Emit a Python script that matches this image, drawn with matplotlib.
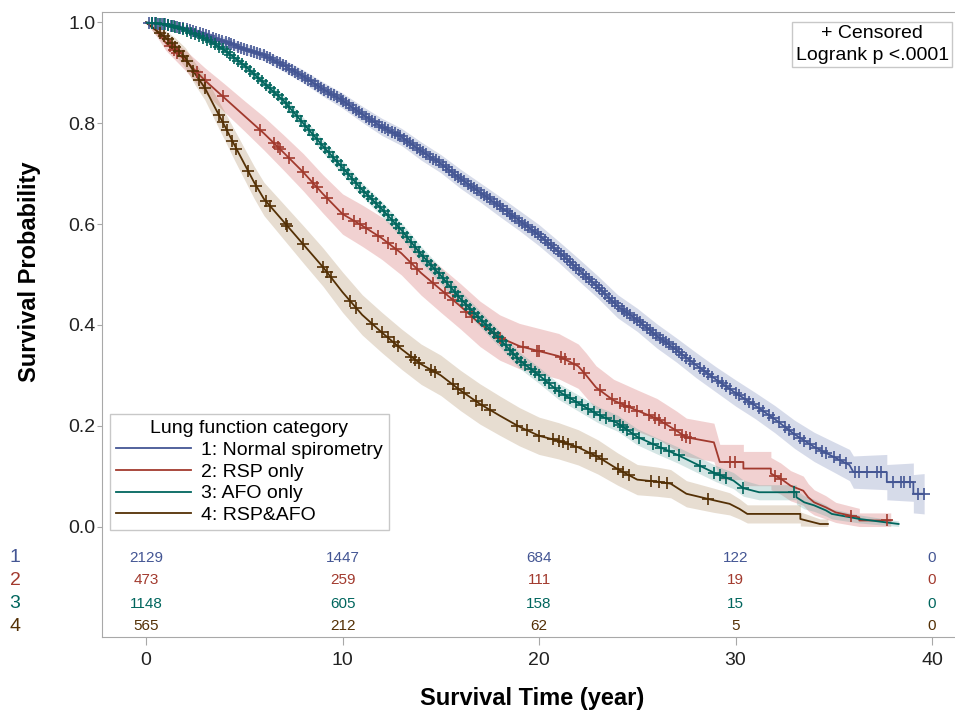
import numpy as np
import matplotlib
matplotlib.use("Agg")
import matplotlib.pyplot as plt
from matplotlib.lines import Line2D

plt.rcParams["font.family"] = ["Liberation Sans", "DejaVu Sans"]

# Kaplan-Meier estimates (time in years, survival probability)
# repeated times are the vertical drops of the step curve in the tails
t1 = [0, 1, 2, 3, 4, 5, 6, 7, 8, 9, 10, 11, 12, 13, 14, 15, 16, 17, 18, 19, 20, 21, 22, 23, 24, 25,
      26, 27, 28, 29, 30, 31, 32, 33, 34, 35, 35.8, 36.0, 37.7, 37.7, 39.05, 39.05, 39.6]
s1 = [1.0, 0.996, 0.988, 0.975, 0.962, 0.948, 0.935, 0.915, 0.893, 0.868, 0.845, 0.818, 0.793, 0.773,
      0.745, 0.72, 0.69, 0.663, 0.635, 0.607, 0.578, 0.545, 0.51, 0.475, 0.437, 0.41, 0.378, 0.35, 0.32,
      0.292, 0.265, 0.24, 0.213, 0.183, 0.158, 0.138, 0.122, 0.108, 0.108, 0.088, 0.088, 0.065, 0.065]
hw1 = [0, 0.004, 0.006, 0.008, 0.009, 0.01, 0.011, 0.012, 0.013, 0.014, 0.015, 0.016, 0.017, 0.017,
       0.018, 0.018, 0.019, 0.019, 0.02, 0.02, 0.021, 0.021, 0.022, 0.022, 0.023, 0.023, 0.024, 0.024,
       0.025, 0.025, 0.026, 0.026, 0.027, 0.028, 0.029, 0.03, 0.031, 0.032, 0.035, 0.035, 0.038, 0.038, 0.04]

t2 = [0, 0.5, 1, 2, 3, 4, 5, 6, 7, 8, 9, 10, 11, 12, 13, 14, 15, 16, 17, 18, 19, 20, 21, 22, 22.4,
      22.9, 23.8, 25, 26, 27, 27.5, 28.9, 29.2, 30.4, 30.4, 31.8, 31.8, 32.3, 32.8, 33.45, 33.7, 34.0,
      34.6, 35.1, 36.3, 36.3, 37.9]
s2 = [1.0, 0.985, 0.96, 0.925, 0.885, 0.85, 0.815, 0.78, 0.742, 0.703, 0.66, 0.62, 0.597, 0.572, 0.542,
      0.503, 0.47, 0.437, 0.402, 0.375, 0.358, 0.348, 0.338, 0.318, 0.3, 0.276, 0.25, 0.23, 0.214, 0.19,
      0.177, 0.167, 0.128, 0.128, 0.115, 0.115, 0.105, 0.095, 0.081, 0.071, 0.058, 0.048, 0.038, 0.028,
      0.018, 0.012, 0.012]
hw2 = [0, 0.01, 0.015, 0.02, 0.025, 0.028, 0.03, 0.033, 0.035, 0.037, 0.038, 0.04, 0.041, 0.042, 0.043,
       0.044, 0.045, 0.045, 0.045, 0.045, 0.045, 0.045, 0.045, 0.044, 0.044, 0.043, 0.042, 0.041, 0.04,
       0.039, 0.038, 0.038, 0.035, 0.035, 0.034, 0.034, 0.032, 0.031, 0.03, 0.029, 0.027, 0.025, 0.023,
       0.02, 0.018, 0.015, 0.015]

t3 = [0, 1, 2, 3, 4, 5, 6, 7, 8, 9, 10, 11, 12, 13, 14, 15, 16, 17, 18, 19, 20, 21, 22, 23, 24, 25,
      26, 27, 28, 29, 29.9, 30.4, 31.2, 33.1, 33.1, 33.5, 34.0, 34.6, 34.9, 36.3, 38.3]
s3 = [1.0, 0.997, 0.985, 0.968, 0.945, 0.915, 0.88, 0.845, 0.8, 0.755, 0.712, 0.668, 0.63, 0.588, 0.54,
      0.498, 0.452, 0.412, 0.372, 0.33, 0.3, 0.268, 0.245, 0.222, 0.205, 0.178, 0.16, 0.143, 0.124,
      0.105, 0.091, 0.076, 0.068, 0.068, 0.058, 0.048, 0.042, 0.032, 0.025, 0.015, 0.005]
hw3 = [0, 0.003, 0.004, 0.006, 0.007, 0.008, 0.01, 0.011, 0.012, 0.013, 0.014, 0.014, 0.015, 0.015,
       0.016, 0.016, 0.016, 0.016, 0.016, 0.016, 0.016, 0.016, 0.016, 0.016, 0.016, 0.016, 0.016, 0.016,
       0.016, 0.016, 0.016, 0.016, 0.015, 0.015, 0.014, 0.013, 0.012, 0.011, 0.01, 0.008, 0.006]

t4 = [0, 0.5, 1, 1.5, 2, 2.5, 3, 3.5, 4, 4.5, 5, 5.5, 6, 7, 8, 9, 10, 11, 12, 13, 14, 15, 16, 17, 18,
      19, 20, 21, 22, 23, 24, 25, 26, 26.7, 27.5, 28.9, 29.7, 30.2, 30.6, 33.3, 33.3, 34.3, 34.7]
s4 = [1.0, 0.985, 0.97, 0.952, 0.93, 0.898, 0.87, 0.832, 0.795, 0.757, 0.72, 0.683, 0.65, 0.605, 0.56,
      0.515, 0.465, 0.42, 0.385, 0.352, 0.322, 0.3, 0.27, 0.243, 0.22, 0.198, 0.18, 0.17, 0.157, 0.138,
      0.114, 0.093, 0.089, 0.085, 0.065, 0.052, 0.045, 0.035, 0.025, 0.025, 0.015, 0.005, 0.005]
hw4 = [0, 0.01, 0.014, 0.017, 0.02, 0.022, 0.024, 0.026, 0.028, 0.03, 0.031, 0.032, 0.033, 0.035, 0.037,
       0.038, 0.04, 0.04, 0.04, 0.04, 0.04, 0.04, 0.04, 0.04, 0.039, 0.038, 0.037, 0.036, 0.035, 0.034,
       0.032, 0.03, 0.029, 0.028, 0.026, 0.024, 0.022, 0.02, 0.018, 0.018, 0.014, 0.01, 0.01]

# censoring times (the + marks)
cens1 = [0.15, 0.3, 0.45, 0.6, 0.8, 0.95, 1.1, 1.25, 1.45, 1.6, 1.75, 1.9, 2.1, 2.25, 2.4, 2.55, 2.75,
         2.9, 3.05, 3.2, 3.4, 3.55, 3.7, 3.85, 4.05, 4.2, 4.35, 4.5, 4.7, 4.85, 5.0, 5.15, 5.35, 5.5, 5.65,
         5.8, 6.0, 6.15, 6.3, 6.45, 6.65, 6.8, 6.95, 7.1, 7.3, 7.45, 7.6, 7.75, 7.95, 8.1, 8.25, 8.4, 8.6,
         8.75, 8.9, 9.05, 9.25, 9.4, 9.55, 9.7, 9.9, 10.05, 10.2, 10.35, 10.55, 10.7, 10.85, 11.0, 11.2,
         11.35, 11.5, 11.65, 11.85, 12.0, 12.15, 12.3, 12.5, 12.65, 12.8, 12.95, 13.15, 13.3, 13.45, 13.6,
         13.8, 13.95, 14.1, 14.25, 14.45, 14.6, 14.75, 14.9, 15.1, 15.25, 15.4, 15.55, 15.75, 15.9, 16.05,
         16.2, 16.4, 16.55, 16.7, 16.85, 17.05, 17.2, 17.35, 17.5, 17.7, 17.85, 18.0, 18.15, 18.35, 18.5,
         18.65, 18.8, 19.0, 19.15, 19.3, 19.45, 19.65, 19.8, 19.95, 20.1, 20.3, 20.45, 20.6, 20.75, 20.95,
         21.1, 21.25, 21.4, 21.6, 21.75, 21.9, 22.05, 22.25, 22.4, 22.55, 22.7, 22.9, 23.05, 23.2, 23.35,
         23.55, 23.7, 23.85, 24.0, 24.2, 24.35, 24.5, 24.65, 24.85, 25.0, 25.15, 25.3, 25.5, 25.65, 25.8,
         25.95, 26.15, 26.3, 26.45, 26.6, 26.8, 26.95, 27.1, 27.3, 27.5, 27.7, 27.9, 28.2, 28.4, 28.6,
         28.8, 29.1, 29.3, 29.5, 29.7, 30.0, 30.2, 30.5, 30.7, 30.9, 31.2, 31.4, 31.7, 31.9, 32.2, 32.5,
         32.7, 33.0, 33.3, 33.5, 33.8, 34.1, 34.4, 34.6, 35.0, 35.3, 35.6, 36.1, 36.3, 36.7, 37.2, 37.4,
         38.0, 38.4, 38.6, 38.9, 39.3, 39.6]
cens2 = [1.2, 1.4, 1.6, 2.6, 3.0, 3.9, 5.8, 6.5, 6.7, 6.8, 7.3, 8.0, 8.5, 8.7, 9.2, 10.0, 10.6, 10.9,
         11.2, 11.8, 12.3, 12.7, 13.5, 13.8, 14.6, 15.2, 15.6, 16.3, 16.6, 17.7, 18.0, 19.2, 19.9, 20.0,
         21.1, 21.3, 21.8, 22.3, 23.1, 23.7, 24.1, 24.4, 24.6, 25.0, 25.6, 25.9, 26.1, 26.4, 26.9, 27.3,
         27.5, 27.7, 29.7, 29.95, 32.0, 32.3, 35.9, 37.7]
cens3 = [0.3, 0.5, 0.7, 0.9, 1.1, 1.3, 1.5, 1.7, 1.9, 2.1, 2.3, 2.5, 2.7, 2.9, 3.1, 3.3, 3.5, 3.7, 3.9,
         4.1, 4.3, 4.5, 4.7, 4.9, 5.1, 5.3, 5.5, 5.7, 5.9, 6.1, 6.3, 6.5, 6.7, 6.9, 7.1, 7.3, 7.5, 7.7,
         7.9, 8.1, 8.3, 8.5, 8.7, 8.9, 9.1, 9.3, 9.5, 9.7, 9.9, 10.1, 10.3, 10.5, 10.7, 10.9, 11.1, 11.3,
         11.5, 11.7, 11.9, 12.1, 12.3, 12.5, 12.7, 12.9, 13.1, 13.3, 13.5, 13.7, 13.9, 14.1, 14.3, 14.5,
         14.7, 14.9, 15.1, 15.3, 15.5, 15.7, 15.9, 16.1, 16.3, 16.5, 16.7, 16.9, 17.1, 17.3, 17.5, 17.7,
         17.9, 18.1, 18.3, 18.5, 18.7, 18.9, 19.1, 19.3, 19.6, 19.8, 20.0, 20.3, 20.5, 20.8, 21.0, 21.3,
         21.6, 21.9, 22.2, 22.5, 22.8, 23.1, 23.4, 23.8, 24.1, 24.3, 24.5, 24.8, 25.1, 25.8, 26.2, 26.6,
         27.1, 28.2, 28.9, 29.2, 29.5, 30.4, 33.0]
cens4 = [0.7, 0.9, 1.1, 1.3, 1.5, 1.7, 1.9, 2.1, 2.4, 2.7, 3.0, 3.7, 3.9, 4.1, 4.4, 4.6, 5.2, 5.6, 6.1,
         6.3, 7.1, 7.2, 8.0, 9.0, 9.2, 9.4, 10.4, 10.7, 11.5, 12.0, 12.3, 12.6, 12.8, 13.5, 13.7, 13.9,
         14.5, 14.7, 15.6, 15.9, 16.2, 16.8, 17.1, 17.5, 18.9, 19.4, 20.0, 20.7, 21.0, 21.2, 21.5, 21.9,
         22.6, 22.9, 23.2, 24.0, 24.3, 24.6, 25.7, 26.1, 26.5, 28.6]

labels = ["1: Normal spirometry", "2: RSP only", "3: AFO only", "4: RSP&AFO"]
line_colors = ["#445694", "#A23A2E", "#01665E", "#543005"]
band_colors = ["#6F7EB3", "#D05B5B", "#66A5A0", "#A9865B"]

# number at risk
risk_times = [0, 10, 20, 30, 40]
at_risk = [[2129, 1447, 684, 122, 0],
           [473, 259, 111, 19, 0],
           [1148, 605, 158, 15, 0],
           [565, 212, 62, 5, 0]]
risk_rows_y = [-0.0615, -0.107, -0.153, -0.198]

groups = [(t1, s1, hw1, cens1), (t2, s2, hw2, cens2), (t3, s3, hw3, cens3), (t4, s4, hw4, cens4)]

fig = plt.figure(figsize=(9.55, 7.13), dpi=100)
ax = fig.add_axes([102 / 955, 76 / 713, 853 / 955, 625 / 713])

# confidence bands first
for (t, s, hw, c), bc in zip(groups, band_colors):
    t = np.array(t); s = np.array(s); hw = np.array(hw)
    ax.fill_between(t, np.clip(s - hw, 0, None), s + hw, color=bc, alpha=0.28, lw=0, zorder=1)

handles = []
for (t, s, hw, c), lc, lab in zip(groups, line_colors, labels):
    ax.plot(t, s, color=lc, lw=1.3, zorder=3)
    c = np.array(c)
    ax.plot(c, np.interp(c, t, s), ls="none", marker="+", ms=8, mew=1.2, color=lc, zorder=4)
    handles.append(Line2D([0], [0], color=lc, lw=1.3, label=lab))

# at-risk table inside the frame below zero
for row, lc, ry in zip(at_risk, line_colors, risk_rows_y):
    for x, n in zip(risk_times, row):
        ax.text(x, ry, str(n), color=lc, fontsize=11, ha="center", va="center")
for i, (lc, ry) in enumerate(zip(line_colors, risk_rows_y)):
    ax.text(-0.102, ry, str(i + 1), color=lc, fontsize=14, ha="center", va="center",
            transform=ax.get_yaxis_transform())

ax.set_xlim(-2.239, 41.17)
ax.set_ylim(-0.2192, 1.0208)
ax.set_xticks(risk_times)
ax.set_yticks([0, 0.2, 0.4, 0.6, 0.8, 1.0])
ax.set_yticklabels(["0.0", "0.2", "0.4", "0.6", "0.8", "1.0"])

for side in ["left", "top", "bottom"]:
    ax.spines[side].set_color("#a8a8a8")
ax.spines["right"].set_visible(False)
ax.tick_params(axis="both", colors="#a8a8a8", labelcolor="#222222", labelsize=14, direction="out")
ax.tick_params(axis="x", length=6, pad=5)
ax.tick_params(axis="y", length=3.5, pad=1)

ax.set_xlabel("Survival Time (year)", fontsize=17, fontweight="bold")
ax.set_ylabel("Survival Probability", fontsize=17, fontweight="bold")
ax.xaxis.set_label_coords(0.504, -0.08)
ax.yaxis.set_label_coords(-0.072, 0.585)

leg = ax.legend(handles=handles, title="Lung function category", loc="lower left",
                bbox_to_anchor=(0.009, 0.171), borderaxespad=0, fontsize=14, title_fontsize=14,
                fancybox=False, edgecolor="#c8c8c8", framealpha=1, handlelength=3.9,
                handletextpad=0.5, labelspacing=0.22, borderpad=0.3)
leg.get_frame().set_linewidth(1.0)

ax.text(0.903, 0.948, "+ Censored\nLogrank p <.0001", transform=ax.transAxes, ha="center",
        va="center", fontsize=14, zorder=6, linespacing=1.35,
        bbox=dict(boxstyle="square,pad=0.18", fc="white", ec="#c8c8c8"))

fig.savefig("out.png", dpi=100)
